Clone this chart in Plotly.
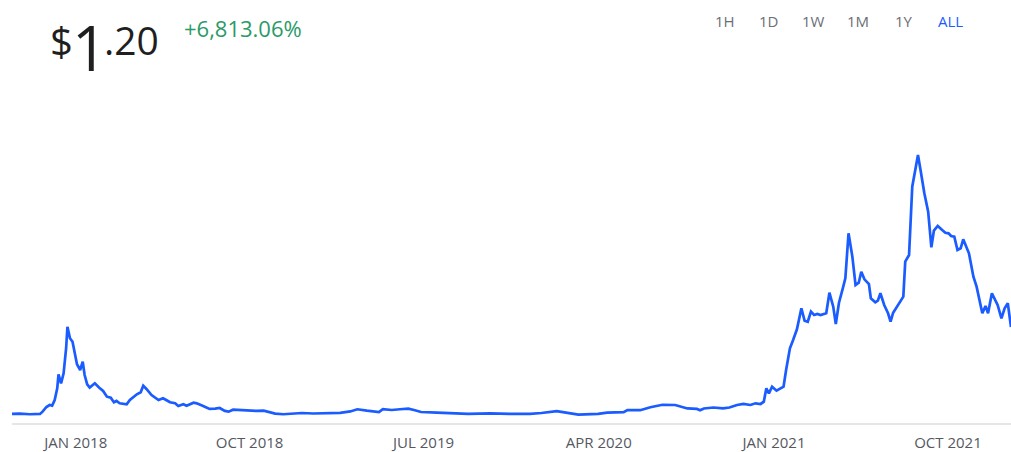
import plotly.graph_objects as go

# ── Dados (preço semanal aproximado) ─────────────────────────────────────────
datas = [
    "2017-09-23", "2017-10-05", "2017-10-21", "2017-11-06", "2017-11-10", "2017-11-16",
    "2017-11-21", "2017-11-25", "2017-11-29", "2017-12-03", "2017-12-05", "2017-12-09",
    "2017-12-13", "2017-12-17", "2017-12-19", "2017-12-23", "2017-12-27", "2017-12-31",
    "2018-01-03", "2018-01-08", "2018-01-12", "2018-01-15", "2018-01-19", "2018-01-23",
    "2018-01-31", "2018-02-07", "2018-02-13", "2018-02-19", "2018-02-25", "2018-03-02",
    "2018-03-06", "2018-03-11", "2018-03-22", "2018-03-27", "2018-04-07", "2018-04-13",
    "2018-04-17", "2018-04-22", "2018-04-30", "2018-05-11", "2018-05-18", "2018-05-23",
    "2018-05-29", "2018-06-06", "2018-06-11", "2018-06-19", "2018-06-24", "2018-07-05",
    "2018-07-10", "2018-07-20", "2018-07-30", "2018-08-08", "2018-08-15", "2018-08-23",
    "2018-08-29", "2018-09-05", "2018-09-16", "2018-09-24", "2018-09-28", "2018-10-12",
    "2018-10-23", "2018-10-30", "2018-11-10", "2018-11-23", "2018-12-09", "2018-12-22",
    "2019-01-09", "2019-01-30", "2019-02-20", "2019-03-08", "2019-03-19", "2019-04-03",
    "2019-04-22", "2019-04-28", "2019-05-12", "2019-05-25", "2019-06-07", "2019-06-16",
    "2019-06-27", "2019-07-22", "2019-08-16", "2019-09-09", "2019-10-13", "2019-11-14",
    "2019-12-15", "2020-01-02", "2020-01-26", "2020-02-11", "2020-02-29", "2020-03-31",
    "2020-04-14", "2020-05-10", "2020-05-16", "2020-06-05", "2020-06-21", "2020-07-10",
    "2020-07-30", "2020-08-18", "2020-09-02", "2020-09-07", "2020-09-13", "2020-09-28",
    "2020-10-13", "2020-10-23", "2020-11-04", "2020-11-14", "2020-11-25", "2020-12-03",
    "2020-12-11", "2020-12-16", "2020-12-20", "2020-12-24", "2020-12-29", "2021-01-05",
    "2021-01-14", "2021-01-16", "2021-01-20", "2021-01-26", "2021-01-31", "2021-02-06",
    "2021-02-13", "2021-02-18", "2021-02-23", "2021-02-28", "2021-03-05", "2021-03-10",
    "2021-03-15", "2021-03-24", "2021-03-29", "2021-04-04", "2021-04-08", "2021-04-13",
    "2021-04-19", "2021-04-23", "2021-04-28", "2021-05-04", "2021-05-09", "2021-05-14",
    "2021-05-18", "2021-05-23", "2021-05-30", "2021-06-02", "2021-06-09", "2021-06-13",
    "2021-06-17", "2021-06-23", "2021-06-29", "2021-07-03", "2021-07-07", "2021-07-14",
    "2021-07-23", "2021-07-26", "2021-08-01", "2021-08-06", "2021-08-11", "2021-08-15",
    "2021-08-19", "2021-08-25", "2021-08-31", "2021-09-05", "2021-09-09", "2021-09-15",
    "2021-09-22", "2021-09-27", "2021-10-02", "2021-10-06", "2021-10-11", "2021-10-16",
    "2021-10-21", "2021-10-25", "2021-11-03", "2021-11-10", "2021-11-15", "2021-11-24",
    "2021-11-29", "2021-12-03", "2021-12-09", "2021-12-15", "2021-12-18", "2021-12-24",
    "2021-12-29", "2022-01-03", "2022-01-08",
]

precos = [
    0.018, 0.022, 0.014, 0.018, 0.049, 0.113,
    0.140, 0.131, 0.208, 0.367, 0.558, 0.435,
    0.571, 0.916, 1.205, 1.048, 1.001, 0.844,
    0.694, 0.616, 0.729, 0.548, 0.422, 0.376,
    0.435, 0.376, 0.331, 0.253, 0.239, 0.177,
    0.195, 0.163, 0.150, 0.208, 0.286, 0.313,
    0.403, 0.358, 0.276, 0.208, 0.231, 0.208,
    0.177, 0.163, 0.127, 0.150, 0.131, 0.171,
    0.163, 0.127, 0.086, 0.090, 0.099, 0.059,
    0.049, 0.076, 0.068, 0.072, 0.059, 0.059,
    0.063, 0.049, 0.022, 0.014, 0.022, 0.031,
    0.024, 0.027, 0.034, 0.052, 0.082, 0.063,
    0.045, 0.083, 0.072, 0.082, 0.090, 0.072,
    0.045, 0.035, 0.031, 0.020, 0.027, 0.018,
    0.020, 0.031, 0.056, 0.034, 0.010, 0.018,
    0.035, 0.042, 0.072, 0.069, 0.110, 0.143,
    0.140, 0.093, 0.086, 0.068, 0.093, 0.106,
    0.093, 0.106, 0.140, 0.154, 0.140, 0.163,
    0.154, 0.185, 0.367, 0.299, 0.389, 0.335,
    0.381, 0.389, 0.616, 0.912, 1.024, 1.170,
    1.456, 1.287, 1.273, 1.410, 1.365, 1.378,
    1.365, 1.388, 1.668, 1.478, 1.242, 1.532,
    1.728, 1.864, 2.476, 2.158, 1.773, 1.804,
    1.954, 1.850, 1.786, 1.592, 1.537, 1.559,
    1.660, 1.501, 1.388, 1.273, 1.396, 1.487,
    1.614, 2.090, 2.181, 3.110, 3.382, 3.541,
    3.337, 3.020, 2.770, 2.286, 2.512, 2.576,
    2.521, 2.484, 2.476, 2.439, 2.430, 2.249,
    2.272, 2.395, 2.204, 1.886, 1.750, 1.388,
    1.487, 1.388, 1.660, 1.546, 1.501, 1.320,
    1.456, 1.524, 1.200,
]

ticks_datas = ["2018-01-01", "2018-10-01", "2019-07-01", "2020-04-01", "2021-01-01", "2021-10-01"]
ticks_texto = ["JAN 2018", "OCT 2018", "JUL 2019", "APR 2020", "JAN 2021", "OCT 2021"]

botoes = ["1H", "1D", "1W", "1M", "1Y", "ALL"]
preco_dolar, preco_inteiro, preco_centavos = "$", "1", ".20"
variacao = "+6,813.06%"

# ── Cores ────────────────────────────────────────────────────────────────────
AZUL = "#1a5cff"
CINZA_TXT = "#6b6e76"
VERDE = "#2a9a68"
PRETO = "#1f1f1f"
FONTE = "Open Sans, Noto Sans, sans-serif"

W, H = 1011, 452
# área do gráfico em pixels: x 12..1011, y 100..423
X0, X1, Y0, Y1 = 12, 1011, 100, 423
ML, MR, MT, MB = X0, W - X1, Y0, H - Y1


def px_x(px):
    return (px - X0) / (X1 - X0)


def px_y(py):
    return (Y1 - py) / (Y1 - Y0)


def texto(t, cx, cy, tam, cor, anc="center"):
    fig.add_annotation(
        text=t, xref="paper", yref="paper",
        x=px_x(cx), y=px_y(cy), xanchor=anc, yanchor="middle",
        showarrow=False, borderpad=0,
        font=dict(family=FONTE, size=tam, color=cor),
    )


fig = go.Figure()

fig.add_trace(go.Scatter(
    x=datas,
    y=precos,
    mode="lines",
    line=dict(color=AZUL, width=2.7),
    hoverinfo="skip",
    showlegend=False,
))

# Cabeçalho: preço e variação
texto(preco_dolar, 49, 40, 40, PRETO, anc="left")
texto(preco_inteiro, 89, 47, 62, PRETO)
texto(preco_centavos, 131, 39, 39, PRETO)
texto(variacao, 243, 27.5, 22, VERDE)

# Botões de período
centros = [725, 768, 813, 858, 904, 950]
for rotulo, cx in zip(botoes, centros):
    texto(rotulo, cx, 21, 15, AZUL if rotulo == "ALL" else CINZA_TXT)

fig.update_xaxes(
    type="date",
    range=["2017-09-23", "2022-01-08"],
    tickvals=ticks_datas,
    ticktext=ticks_texto,
    tickfont=dict(family=FONTE, size=15, color="#55585f"),
    ticks="",
    ticklabelstandoff=5,
    automargin=False,
    showgrid=False,
    zeroline=False,
    showline=True,
    linecolor="#e6e6e6",
    linewidth=2,
    fixedrange=True,
)
fig.update_yaxes(
    range=[-0.105, 4.29],
    visible=False,
    automargin=False,
    showgrid=False,
    zeroline=False,
    fixedrange=True,
)

fig.update_layout(
    width=W,
    height=H,
    margin=dict(l=ML, r=MR, t=MT, b=MB),
    paper_bgcolor="white",
    plot_bgcolor="white",
    font=dict(family=FONTE),
    showlegend=False,
)

# sem margem no body, para a figura ocupar a janela inteira
fig.write_html(
    "out.html",
    config={"displayModeBar": False},
    post_script="document.body.style.margin='0';document.body.style.overflow='hidden';",
)
